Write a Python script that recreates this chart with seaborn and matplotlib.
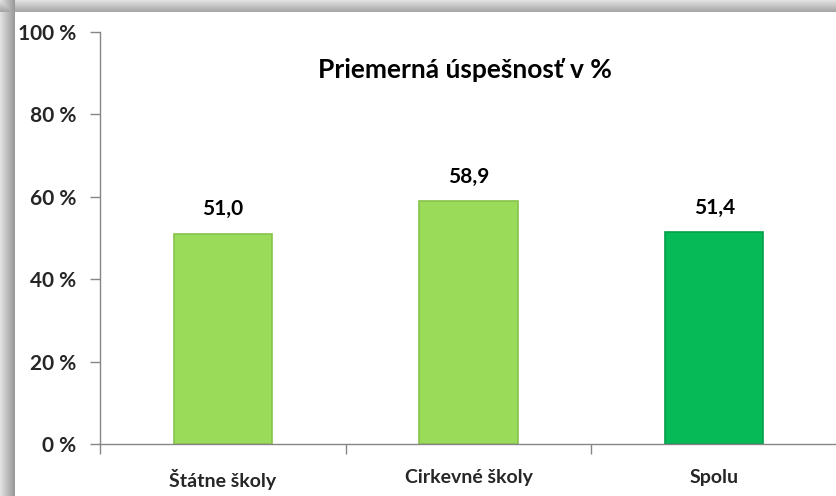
import matplotlib
matplotlib.use("Agg")
import matplotlib.pyplot as plt
import seaborn as sns
import numpy as np
import pandas as pd
from matplotlib.ticker import FixedLocator

categories = ["Štátne školy", "Cirkevné školy", "Spolu"]
values = [51.0, 58.9, 51.4]
bar_colors = ["#9BDB5A", "#9BDB5A", "#06BA57"]
edge_colors = ["#86C44A", "#86C44A", "#03A04A"]
yticks = [0, 20, 40, 60, 80, 100]
ytick_labels = ["0 %", "20 %", "40 %", "60 %", "80 %", "100 %"]
title = "Priemerná úspešnosť v %"

sns.set_theme(style="white")
plt.rcParams['font.family'] = ['Lato', 'DejaVu Sans']

W, H = 837, 496
fig = plt.figure(figsize=(W / 100, H / 100), dpi=100)

# gray shadow frame
bg = fig.add_axes([0, 0, 1, 1])
bg.set_xlim(0, W)
bg.set_ylim(H, 0)
bg.axis("off")
grad = np.ones((H, W))
top = 12
left = 15
for y in range(top):
    grad[y, :] = 0.88 - 0.25 * (y / top)
for x in range(left):
    grad[:, x] = np.minimum(grad[:, x], 0.88 - 0.30 * (x / left))
grad[top:, left:] = 1.0
bg.imshow(grad, cmap="gray", vmin=0, vmax=1, extent=[0, W, H, 0], aspect="auto")

ax = fig.add_axes([100 / W, 1 - 444 / H, 1 - 100 / W, (444 - 32) / H])
ax.patch.set_alpha(0)

df = pd.DataFrame({"cat": categories, "val": values})
sns.barplot(data=df, x="cat", y="val", hue="cat", palette=bar_colors,
            saturation=1, width=0.4, legend=False, ax=ax, linewidth=1.2)
for p, ec in zip(ax.patches, edge_colors):
    p.set_edgecolor(ec)

for i, v in enumerate(values):
    ax.text(i, v + 3.5, f"{v:.1f}".replace(".", ","), ha="center", va="bottom",
            fontsize=15, fontweight="bold", color="black")

ax.set_xlim(-0.5, 2.5)
ax.set_ylim(0, 100)
ax.set_yticks(yticks)
ax.set_yticklabels(ytick_labels, fontsize=15, fontweight="bold")
ax.set_xticks(range(len(categories)))
ax.set_xticklabels(categories, fontsize=14, fontweight="bold")
ax.xaxis.set_minor_locator(FixedLocator([-0.5, 0.5, 1.5, 2.5]))
ax.tick_params(axis="x", which="major", length=0, pad=18)
ax.tick_params(axis="x", which="minor", length=7, width=1, color="#868686", direction="out", bottom=True)
ax.tick_params(axis="y", length=7, width=1, color="#868686", direction="out", left=True, pad=10)
ax.set_xlabel("")
ax.set_ylabel("")
for s in ["top", "right"]:
    ax.spines[s].set_visible(False)
for s in ["left", "bottom"]:
    ax.spines[s].set_color("#868686")
    ax.spines[s].set_linewidth(1)

fig.text(465 / W, 1 - 70 / H, title, ha="center", va="center", fontsize=19,
         fontweight="bold", color="black")

fig.savefig("out.png", dpi=100)
